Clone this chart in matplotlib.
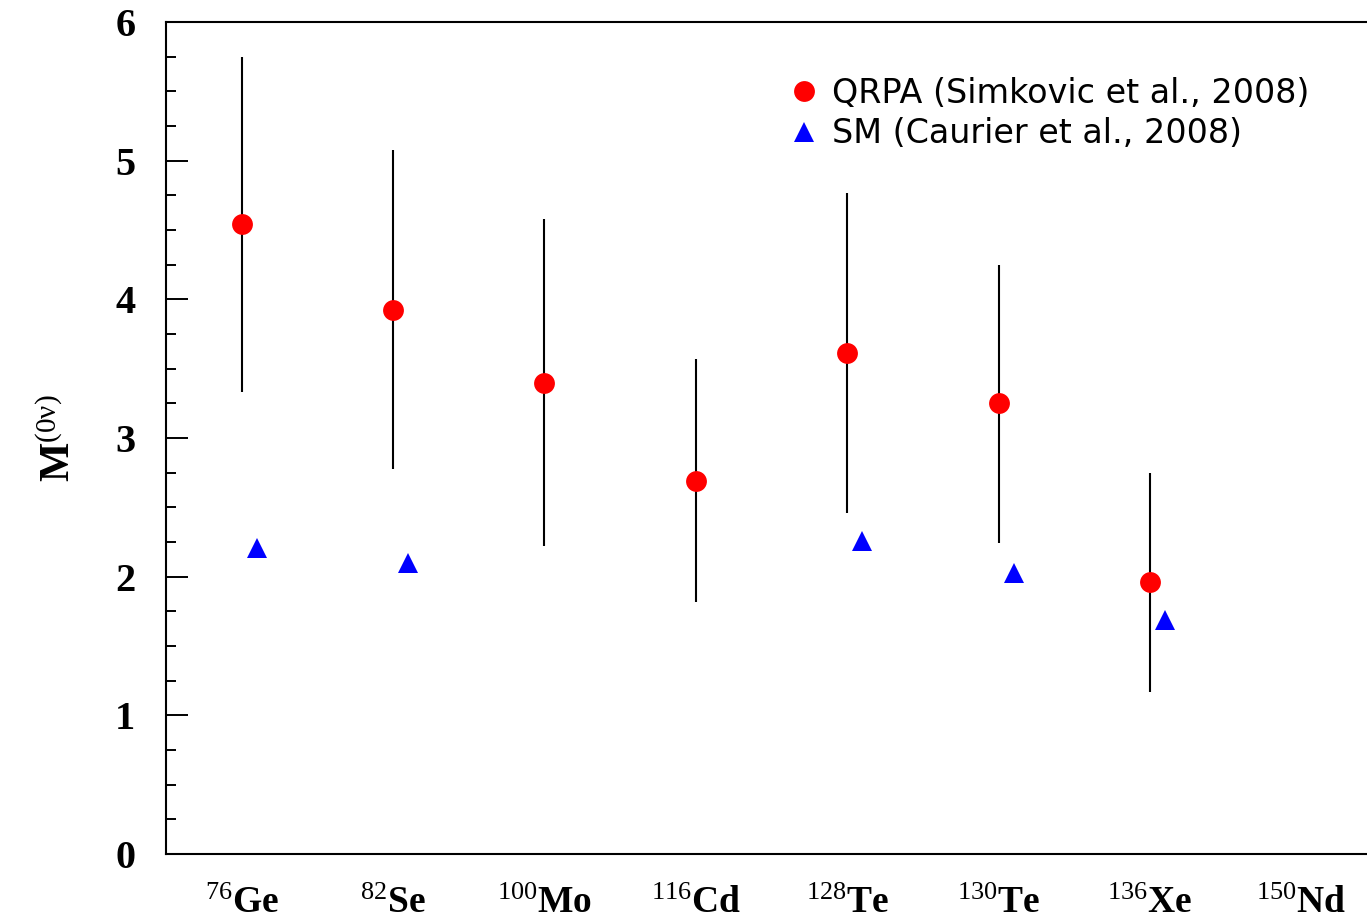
import matplotlib
matplotlib.use("Agg")
import matplotlib.pyplot as plt
from matplotlib.ticker import MultipleLocator

# nuclear matrix elements for 0vbb candidates
isotopes = ["Ge", "Se", "Mo", "Cd", "Te", "Te", "Xe", "Nd"]
mass_numbers = ["76", "82", "100", "116", "128", "130", "136", "150"]

qrpa_val = [4.54, 3.92, 3.40, 2.69, 3.61, 3.25, 1.96]
qrpa_hi = [5.75, 5.08, 4.58, 3.57, 4.77, 4.25, 2.75]
qrpa_lo = [3.33, 2.78, 2.22, 1.82, 2.46, 2.24, 1.17]

sm_idx = [0, 1, 4, 5, 6]
sm_val = [2.21, 2.10, 2.26, 2.03, 1.69]

plt.rcParams["mathtext.fontset"] = "custom"
plt.rcParams["mathtext.rm"] = "Liberation Serif"
plt.rcParams["mathtext.it"] = "Liberation Serif"
plt.rcParams["mathtext.bf"] = "Liberation Serif:bold"

fig = plt.figure(figsize=(13.67, 9.22), dpi=100)
ax = fig.add_axes([166 / 1367, 68 / 922, 1211 / 1367, 832 / 922])

xq = list(range(len(qrpa_val)))
yerr = [[v - lo for v, lo in zip(qrpa_val, qrpa_lo)],
        [hi - v for v, hi in zip(qrpa_val, qrpa_hi)]]
ax.errorbar(xq, qrpa_val, yerr=yerr, fmt="none", ecolor="black", elinewidth=1.5, capsize=0, zorder=2)
ax.plot(xq, qrpa_val, "o", color="#ff0000", ms=15, mew=0, ls="none", zorder=3,
        label="QRPA (Simkovic et al., 2008)")
ax.plot([i + 0.1 for i in sm_idx], sm_val, "^", color="#0000ff", ms=15, mew=0, ls="none", zorder=3,
        label="SM (Caurier et al., 2008)")

ax.set_xlim(-0.5, 7.5)
ax.set_ylim(0, 6)
ax.set_xticks(range(len(isotopes)))
ax.set_xticklabels([rf"$^{{{a}}}\mathbf{{{s}}}$" for a, s in zip(mass_numbers, isotopes)], fontsize=27)
ax.tick_params(axis="x", length=0, pad=22)

ax.yaxis.set_major_locator(MultipleLocator(1))
ax.yaxis.set_minor_locator(MultipleLocator(0.25))
ax.tick_params(axis="y", which="major", direction="in", length=16, width=1.4, pad=22)
ax.tick_params(axis="y", which="minor", direction="in", length=7.5, width=1.4)
for lab in ax.get_yticklabels():
    lab.set_fontfamily("Liberation Serif")
    lab.set_fontweight("bold")
    lab.set_fontsize(29)

for side in ("left", "top", "bottom"):
    ax.spines[side].set_linewidth(1.5)
ax.spines["right"].set_visible(False)

ax.set_ylabel(r"$\mathbf{M}^{(0\mathrm{ν})}$", fontsize=30, labelpad=26)

ax.legend(loc="upper left", bbox_to_anchor=(0.488, 0.97), frameon=False,
          handletextpad=0.35, labelspacing=0.22, handlelength=1.0, markerscale=1.0,
          prop={"family": "DejaVu Sans", "size": 24})

fig.savefig("out.png", dpi=100)
